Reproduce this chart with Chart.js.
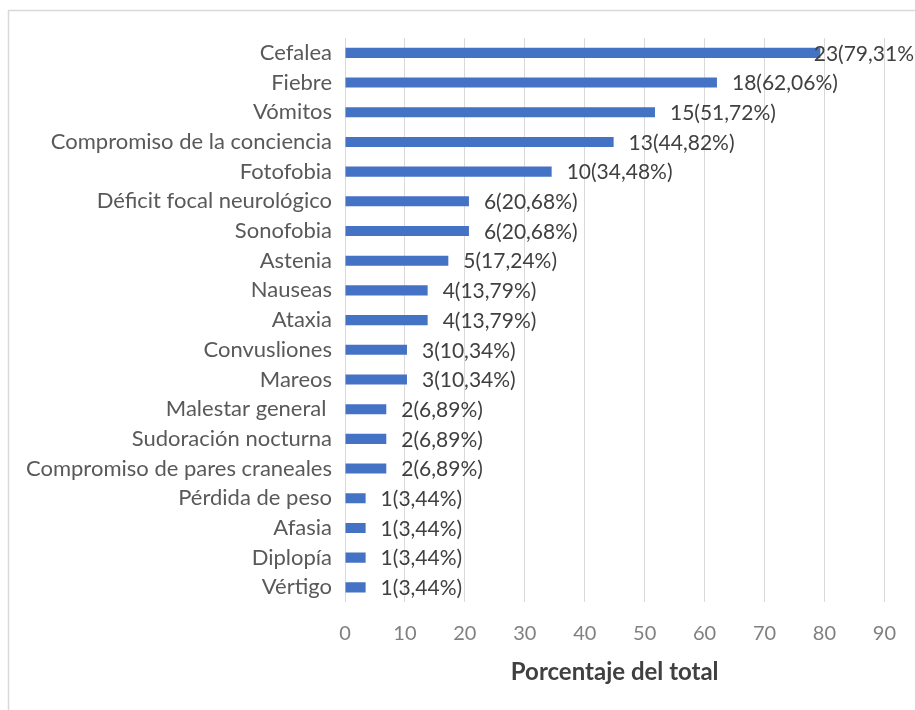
<!DOCTYPE html>
<html><head><meta charset="utf-8">
<script src="https://cdn.jsdelivr.net/npm/chart.js@4/dist/chart.umd.min.js"></script>
<style>html,body{margin:0;padding:0;background:#fff;}#wrap{width:915px;height:710px;position:relative;}</style>
</head><body><div id="wrap"><canvas id="c" width="915" height="710"></canvas></div>
<script>
const categories = ["Cefalea","Fiebre","Vómitos","Compromiso de la conciencia","Fotofobia","Déficit focal neurológico","Sonofobia","Astenia","Nauseas","Ataxia","Convusliones","Mareos","Malestar general ","Sudoración nocturna","Compromiso de pares craneales","Pérdida de peso","Afasia","Diplopía","Vértigo"];
const counts = [23,18,15,13,10,6,6,5,4,4,3,3,2,2,2,1,1,1,1];
const percents = [79.31,62.06,51.72,44.82,34.48,20.68,20.68,17.24,13.79,13.79,10.34,10.34,6.89,6.89,6.89,3.44,3.44,3.44,3.44];
const valueLabels = ["23(79,31%","18(62,06%)","15(51,72%)","13(44,82%)","10(34,48%)","6(20,68%)","6(20,68%)","5(17,24%)","4(13,79%)","4(13,79%)","3(10,34%)","3(10,34%)","2(6,89%)","2(6,89%)","2(6,89%)","1(3,44%)","1(3,44%)","1(3,44%)","1(3,44%)"];
const xTicks = [0,10,20,30,40,50,60,70,80,90];
const xTitle = "Porcentaje del total";

const FONT = "Lato, sans-serif";
const framePlugin = {
  id:'frame',
  beforeDraw(chart){
    const ctx = chart.ctx;
    ctx.save();
    ctx.fillStyle='#fff';ctx.fillRect(0,0,chart.width,chart.height);
    ctx.strokeStyle='#d9d9d9';ctx.lineWidth=1.5;
    ctx.strokeRect(8.5,10.5,930,720);
    ctx.restore();
  }
};
const labelPlugin = {
  id:'vlabels',
  afterDatasetsDraw(chart){
    const ctx = chart.ctx;
    const meta = chart.getDatasetMeta(0);
    ctx.save();
    ctx.font = "21px " + FONT;
    ctx.fillStyle = '#404040';
    ctx.textBaseline='middle';
    ctx.textAlign='left';
    meta.data.forEach((bar,i)=>{
      const w = ctx.measureText(valueLabels[i]).width;
      const x = Math.min(bar.x + 15, chart.width - 1 - w);
      ctx.fillText(valueLabels[i], x, bar.y+1);
    });
    ctx.restore();
  }
};
new Chart(document.getElementById('c'),{
  type:'bar',
  data:{labels:categories,datasets:[{data:percents,backgroundColor:'#4472c4',borderWidth:0,barPercentage:0.5,categoryPercentage:0.68}]},
  options:{
    indexAxis:'y',responsive:false,animation:false,
    layout:{padding:{left:10,right:27,top:38,bottom:23}},
    plugins:{legend:{display:false},tooltip:{enabled:false}},
    scales:{
      x:{min:0,max:90,
        afterBuildTicks(s){s.ticks = xTicks.map(v=>({value:v}));},
        grid:{color:'#d9d9d9',drawTicks:false,lineWidth:1},
        border:{display:false},
        ticks:{color:'#808080',font:{family:FONT,size:20},padding:19},
        title:{display:true,text:xTitle,color:'#404040',font:{family:FONT,size:24,weight:'bold'},padding:{top:-6,bottom:0}}
      },
      y:{
        afterFit(s){s.width = 335;},
        grid:{display:false},
        border:{display:false},
        ticks:{color:'#595959',font:{family:FONT,size:22},padding:5,autoSkip:false}
      }
    }
  },
  plugins:[framePlugin,labelPlugin]
});
</script></body></html>
